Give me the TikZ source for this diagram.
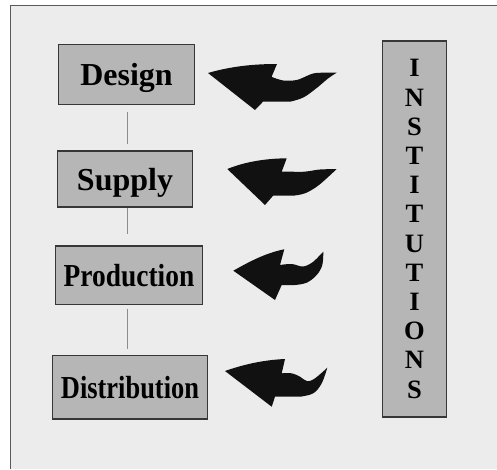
\documentclass[tikz,border=0pt]{standalone}
\usepackage{fontspec}
\setmainfont{Liberation Serif}
\usepackage{graphicx}
\definecolor{bgc}{RGB}{236,236,236}
\definecolor{boxfill}{RGB}{182,182,182}
\definecolor{boxline}{RGB}{55,55,55}
\definecolor{framec}{RGB}{90,90,90}
\definecolor{connc}{RGB}{140,140,140}
\definecolor{arrc}{RGB}{17,17,17}
\begin{document}
\begin{tikzpicture}[x=1pt,y=-1pt,
  stage/.style={draw=boxline, fill=boxfill, line width=1.4pt, inner sep=0pt,
    text height=22pt, text depth=0pt, font=\fontsize{32}{32}\selectfont\bfseries},
  instbox/.style={draw=boxline, fill=boxfill, line width=1.4pt, inner sep=0pt,
    align=center, font=\fontsize{26.5}{29.2}\selectfont\bfseries},
  conn/.style={draw=connc, line width=0.9pt},
  bigarrow/.style={fill=arrc}]
\useasboundingbox (0,0) rectangle (497,469);
\fill[white] (0,0) rectangle (497,469);
\fill[bgc] (10.5,5.5) rectangle (497,469);
\draw[framec, line width=1.5pt] (10.5,469) -- (10.5,5.5) -- (497,5.5);

\node[stage, minimum width=135.6pt, minimum height=60.4pt] (design) at (126.5,74.5) {Design};
\node[stage, minimum width=135.4pt, minimum height=56pt] (supply) at (125,179) {Supply};
\node[stage, minimum width=146.6pt, minimum height=58.3pt] (production) at (129,275.2) {\scalebox{0.857}[1]{Production}};
\node[stage, minimum width=154.6pt, minimum height=63.3pt] (distribution) at (130,387.3) {\scalebox{0.826}[1]{Distribution}};
\node[instbox, minimum width=64.4pt, minimum height=376pt] (inst) at (414.5,229) {I\\N\\S\\T\\I\\T\\U\\T\\I\\O\\N\\S};

\coordinate (lx) at (127.7,0);
\draw[conn, shorten <=6.3pt, shorten >=6pt] (design.south -| lx) -- (supply.north -| lx);
\draw[conn, shorten >=11pt] (supply.south -| lx) -- (production.north -| lx);
\draw[conn, shorten <=3.7pt, shorten >=5.7pt] (production.south -| lx) -- (distribution.north -| lx);

% arrow to Design
\fill[bigarrow] (208,73) .. controls (232,66) and (255,64) .. (277,64) -- (271.7,76.5)
  -- plot[smooth, tension=0.6] coordinates {(272,77) (283.3,80.5) (296.7,80) (306.7,76) (316,73) (336.7,72.7)}
  -- plot[smooth, tension=0.6] coordinates {(336.7,72.7) (328,78.5) (316.7,88) (303.3,97.5) (290,101.7)}
  -- (263,101.7) -- (255,110) -- cycle;
% arrow to Supply
\fill[bigarrow] (227.3,169) .. controls (242,163) and (262,158.5) .. (286.7,158.3) -- (281.7,171.7)
  -- plot[smooth, tension=0.6] coordinates {(281.7,171.7) (290,171.5) (300,172) (310,171) (320,169.5) (336.7,169)}
  -- plot[smooth, tension=0.6] coordinates {(336.7,169) (326.7,178.3) (316.7,186.7) (305,193.3) (293.3,195.7)}
  -- (273.3,195.5) -- (265,205) -- cycle;
% arrow to Production
\fill[bigarrow] (233.3,270.7) .. controls (247,263) and (265,253) .. (284.3,249.3) -- (280,265)
  -- plot[smooth, tension=0.6] coordinates {(280,265) (291.7,264) (303.3,266.5) (313.3,261.7) (320,255) (323.3,251.7)}
  -- plot[smooth, tension=0.6] coordinates {(323.3,251.7) (322.3,265) (316.7,275) (306.7,282.7) (295,285)}
  -- (281.7,285) -- (275,300) -- cycle;
% arrow to Distribution
\fill[bigarrow] (225,371) .. controls (242,365) and (262,360) .. (285,359) -- (281.7,373.3)
  -- plot[smooth, tension=0.6] coordinates {(281.7,373.3) (291.7,373.3) (300,376.7) (307.3,381.2) (315,378.3) (327.3,367.7)}
  -- plot[smooth, tension=0.6] coordinates {(327.3,367.7) (321.7,383.3) (313.3,393.3) (300,396.7)}
  -- (275,396.7) -- (271.7,406.7) -- cycle;
\end{tikzpicture}
\end{document}
